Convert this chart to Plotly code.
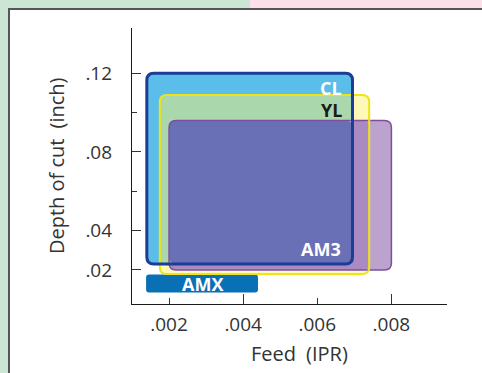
import plotly.graph_objects as go

# ---- data (feed in IPR, depth of cut in inch) ----
grades = ["CL", "YL", "AM3", "AMX"]
feed_min = [0.0014, 0.00175, 0.0020, 0.00138]
feed_max = [0.00695, 0.0074, 0.0080, 0.0044]
doc_min = [0.023, 0.018, 0.020, 0.0085]
doc_max = [0.120, 0.109, 0.096, 0.0177]

x_tickvals = [0.002, 0.004, 0.006, 0.008]
x_ticktext = [".002", ".004", ".006", ".008"]
x_long_ticks = [0.004, 0.008, 0.0095]
y_tickvals = [0.02, 0.04, 0.08, 0.12]
y_ticktext = [".02", ".04", ".08", ".12"]
y_minor_ticks = [0.06, 0.10]

X_RANGE = [0.001, 0.0095]
Y_RANGE = [0.0027, 0.143]

W, H = 482, 373
ML, MR, MT, MB = 132, 35, 28, 69
PW, PH = W - ML - MR, H - MT - MB

FONT = "Open Sans"

# px -> data units for corner radii
RX_PER_PX = (X_RANGE[1] - X_RANGE[0]) / PW
RY_PER_PX = (Y_RANGE[1] - Y_RANGE[0]) / PH


def rrect(x0, x1, y0, y1, r_px=7):
    rx, ry = r_px * RX_PER_PX, r_px * RY_PER_PX
    return (f"M {x0+rx},{y0} L {x1-rx},{y0} Q {x1},{y0} {x1},{y0+ry} "
            f"L {x1},{y1-ry} Q {x1},{y1} {x1-rx},{y1} L {x0+rx},{y1} "
            f"Q {x0},{y1} {x0},{y1-ry} L {x0},{y0+ry} Q {x0},{y0} {x0+rx},{y0} Z")


def inter(idx):
    return (max(feed_min[i] for i in idx), min(feed_max[i] for i in idx),
            max(doc_min[i] for i in idx), min(doc_max[i] for i in idx))


def box(i):
    return feed_min[i], feed_max[i], doc_min[i], doc_max[i]


CL, YL, AM3, AMX = 0, 1, 2, 3

shapes = []


def px2paper_x(px):
    return (px - ML) / PW


def px2paper_y(py):
    return (H - MB - py) / PH


# decorative background: green frame, pink strip, white panel, dark border
shapes.append(dict(type="rect", xref="paper", yref="paper", layer="below",
                   x0=px2paper_x(9), x1=px2paper_x(W), y0=px2paper_y(H), y1=px2paper_y(9),
                   fillcolor="white", line_width=0))
shapes.append(dict(type="rect", xref="paper", yref="paper", layer="below",
                   x0=px2paper_x(250), x1=px2paper_x(W), y0=px2paper_y(9), y1=px2paper_y(0),
                   fillcolor="#fbe0ea", line_width=0))
shapes.append(dict(type="line", xref="paper", yref="paper", layer="below",
                   x0=px2paper_x(9), x1=px2paper_x(W), y0=px2paper_y(9), y1=px2paper_y(9),
                   line=dict(color="#555555", width=2)))
shapes.append(dict(type="line", xref="paper", yref="paper", layer="below",
                   x0=px2paper_x(9), x1=px2paper_x(9), y0=px2paper_y(8), y1=px2paper_y(H),
                   line=dict(color="#555555", width=2)))


def fill(bx, color, r=7):
    x0, x1, y0, y1 = bx
    shapes.append(dict(type="path", xref="x", yref="y", path=rrect(x0, x1, y0, y1, r),
                       fillcolor=color, line_width=0, layer="above"))


def border(bx, color, w, r=7):
    x0, x1, y0, y1 = bx
    shapes.append(dict(type="path", xref="x", yref="y", path=rrect(x0, x1, y0, y1, r),
                       fillcolor="rgba(0,0,0,0)", line=dict(color=color, width=w), layer="above"))


fill(box(YL), "#fff8b6")
fill(box(AM3), "#bba3cd")
fill(inter([AM3, YL]), "#a98bc1")
fill(box(CL), "#5bbde9")
fill(inter([CL, YL]), "#aad8ac")
fill(inter([CL, YL, AM3]), "#6a70b6")
fill(box(AMX), "#0a70b5", r=3)
border(box(AM3), "#7d4f9e", 1.5)
border(box(YL), "#f0e414", 2)
border(box(CL), "#1d3c96", 3)

annotations = [
    dict(x=feed_max[CL], y=doc_max[CL], xref="x", yref="y", text="<b>CL</b>",
         showarrow=False, xanchor="right", yanchor="top", xshift=-9, yshift=-1,
         font=dict(family=FONT, size=18, color="white")),
    dict(x=feed_max[CL], y=doc_max[YL], xref="x", yref="y", text="<b>YL</b>",
         showarrow=False, xanchor="right", yanchor="top", xshift=-9, yshift=-1,
         font=dict(family=FONT, size=18, color="#1a1a1a")),
    dict(x=feed_max[CL], y=doc_min[CL], xref="x", yref="y", text="<b>AM3</b>",
         showarrow=False, xanchor="right", yanchor="bottom", xshift=-10, yshift=1,
         font=dict(family=FONT, size=18, color="white")),
    dict(x=(feed_min[AMX] + feed_max[AMX]) / 2, y=(doc_min[AMX] + doc_max[AMX]) / 2,
         xref="x", yref="y", text="<b>AMX</b>", showarrow=False,
         xanchor="center", yanchor="middle", yshift=0,
         font=dict(family=FONT, size=18, color="white")),
    dict(x=px2paper_x(299), y=px2paper_y(353), xref="paper", yref="paper",
         text="Feed\u2002(IPR)", showarrow=False, xanchor="center", yanchor="middle",
         font=dict(family=FONT, size=20, color="#333333")),
    dict(x=px2paper_x(56), y=px2paper_y(166), xref="paper", yref="paper",
         text="Depth of cut\u2002(inch)", showarrow=False, textangle=-90,
         xanchor="center", yanchor="middle",
         font=dict(family=FONT, size=20, color="#333333")),
]

fig = go.Figure()
fig.add_trace(go.Scatter(x=[], y=[], showlegend=False))
fig.add_trace(go.Scatter(x=[], y=[], xaxis="x2", showlegend=False))

fig.update_layout(
    width=W, height=H,
    margin=dict(l=ML, r=MR, t=MT, b=MB, pad=0),
    paper_bgcolor="#cce6d5", plot_bgcolor="rgba(0,0,0,0)",
    showlegend=False,
    shapes=shapes, annotations=annotations,
    xaxis=dict(range=X_RANGE, showgrid=False, zeroline=False, showline=True,
               linecolor="#1a1a1a", linewidth=1.2, ticks="inside", ticklen=6,
               tickwidth=1, tickcolor="#333333",
               tickmode="array", tickvals=x_tickvals, ticktext=x_ticktext,
               tickfont=dict(family=FONT, size=19, color="#333333"),
               ticklabelstandoff=3),
    xaxis2=dict(range=X_RANGE, overlaying="x", anchor="y", side="bottom",
                showgrid=False, zeroline=False, showline=False, ticks="inside",
                ticklen=10, tickwidth=1, tickcolor="#333333", tickmode="array",
                tickvals=x_long_ticks, showticklabels=False),
    yaxis=dict(range=Y_RANGE, showgrid=False, zeroline=False, showline=True,
               linecolor="#1a1a1a", linewidth=1.2, ticks="inside", ticklen=9,
               tickwidth=1, tickcolor="#333333",
               tickmode="array", tickvals=y_tickvals, ticktext=y_ticktext,
               tickfont=dict(family=FONT, size=19, color="#333333"),
               ticklabelstandoff=15,
               minor=dict(tickmode="array", tickvals=y_minor_ticks, ticks="inside",
                          ticklen=5, tickcolor="#333333", tickwidth=1)),
)

fig.write_html("out.html", config={"displayModeBar": False},
               post_script="document.body.style.margin='0';document.body.style.padding='0';")
